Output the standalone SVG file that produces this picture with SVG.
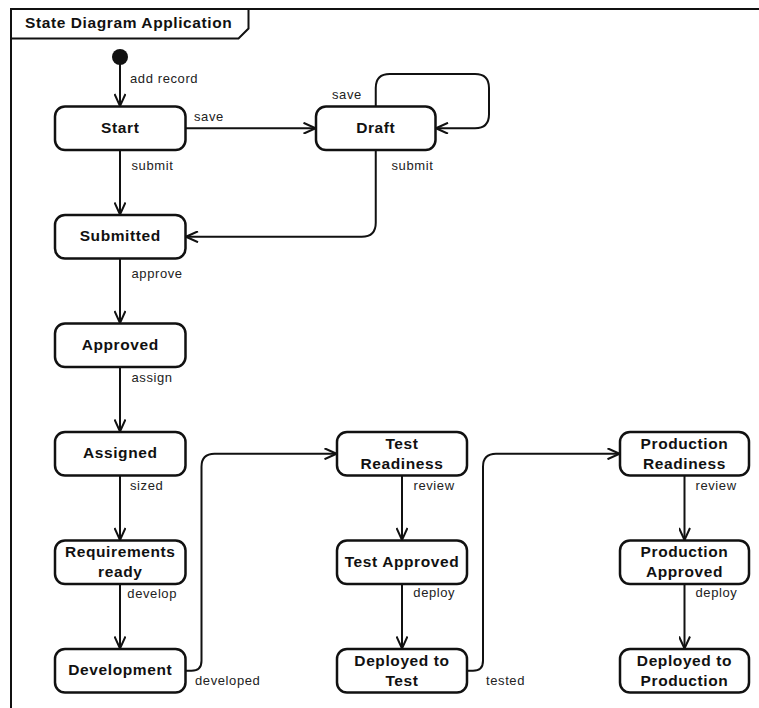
<svg xmlns="http://www.w3.org/2000/svg" width="759" height="708" viewBox="0 0 759 708">
  <style>
    .frame { fill: none; stroke: #111; stroke-width: 2; }
    .state rect { fill: #fff; stroke: #111; stroke-width: 2.5; }
    .state text { font-family: "Liberation Sans", Arial, sans-serif; font-weight: bold; font-size: 15.5px; letter-spacing: 0.6px; fill: #111; text-anchor: middle; }
    .title { font-family: "Liberation Sans", Arial, sans-serif; font-weight: bold; font-size: 15.5px; letter-spacing: 0.6px; fill: #111; }
    .edge { fill: none; stroke: #111; stroke-width: 2; marker-end: url(#open); }
    .lbl { font-family: "Liberation Sans", Arial, sans-serif; font-size: 13px; letter-spacing: 0.6px; fill: #222; }
  </style>
  <defs>
    <marker id="open" viewBox="0 0 14 12" refX="13.5" refY="6" markerWidth="14" markerHeight="12" markerUnits="userSpaceOnUse" orient="auto">
      <path d="M1,0.5 L13,6 L1,11.5" fill="none" stroke="#111" stroke-width="2"/>
    </marker>
  </defs>
  <rect width="759" height="708" fill="#fff"/>

  <!-- diagram frame with name tab -->
  <g id="frame">
    <rect class="frame" x="11" y="9" width="800" height="800"/>
    <path class="frame" d="M11,38.5 H238.5 L248.5,28.5 V9"/>
    <text class="title" x="25" y="28.3">State Diagram Application</text>
  </g>

  <!-- transitions -->
  <g id="connectors">
    <path class="edge" d="M120,57 V106.5"/>
    <path class="edge" d="M185.5,128.25 H316"/>
    <path class="edge" d="M375.75,106.5 V88 Q375.75,74 389.75,74 H475 Q489,74 489,88 V114.25 Q489,128.25 475,128.25 H435.5"/>
    <path class="edge" d="M375.75,150 V222.75 Q375.75,236.75 361.75,236.75 H185.5"/>
    <path class="edge" d="M120,150 V215"/>
    <path class="edge" d="M120,258.5 V323.5"/>
    <path class="edge" d="M120,367 V432"/>
    <path class="edge" d="M120,475.5 V540.5"/>
    <path class="edge" d="M120,584 V649"/>
    <path class="edge" d="M185.5,670.75 H191.5 Q201.5,670.75 201.5,660.75 V466.75 Q201.5,453.75 214.5,453.75 H337"/>
    <path class="edge" d="M402,475.5 V540.5"/>
    <path class="edge" d="M402,584 V649"/>
    <path class="edge" d="M467,670.75 H473 Q483,670.75 483,660.75 V466.75 Q483,453.75 496,453.75 H620"/>
    <path class="edge" d="M684.5,475.5 V540.5"/>
    <path class="edge" d="M684.5,584 V649"/>

    <text class="lbl" x="130" y="82.5">add record</text>
    <text class="lbl" x="194" y="121">save</text>
    <text class="lbl" x="332" y="98.5">save</text>
    <text class="lbl" x="131.5" y="170">submit</text>
    <text class="lbl" x="391.5" y="170">submit</text>
    <text class="lbl" x="131.5" y="278.3">approve</text>
    <text class="lbl" x="131.5" y="381.7">assign</text>
    <text class="lbl" x="130" y="490">sized</text>
    <text class="lbl" x="127.3" y="598">develop</text>
    <text class="lbl" x="195" y="685">developed</text>
    <text class="lbl" x="413.5" y="490">review</text>
    <text class="lbl" x="413.3" y="597">deploy</text>
    <text class="lbl" x="486" y="685">tested</text>
    <text class="lbl" x="695.5" y="490">review</text>
    <text class="lbl" x="695.5" y="597">deploy</text>
  </g>

  <!-- initial pseudostate -->
  <g id="initial">
    <circle cx="120" cy="57" r="8" fill="#111"/>
  </g>

  <!-- states -->
  <g id="start" class="state">
    <rect x="55" y="106.5" width="130.5" height="43.5" rx="10"/>
    <text x="120.25" y="132.5">Start</text>
  </g>
  <g id="draft" class="state">
    <rect x="316" y="106.5" width="119.5" height="43.5" rx="10"/>
    <text x="375.75" y="132.5">Draft</text>
  </g>
  <g id="submitted" class="state">
    <rect x="55" y="215" width="130.5" height="43.5" rx="10"/>
    <text x="120.25" y="241">Submitted</text>
  </g>
  <g id="approved" class="state">
    <rect x="55" y="323.5" width="130.5" height="43.5" rx="10"/>
    <text x="120.25" y="349.5">Approved</text>
  </g>
  <g id="assigned" class="state">
    <rect x="55" y="432" width="130.5" height="43.5" rx="10"/>
    <text x="120.25" y="458">Assigned</text>
  </g>
  <g id="requirements-ready" class="state">
    <rect x="55" y="540.5" width="130.5" height="43.5" rx="10"/>
    <text x="120.25" y="557">Requirements</text>
    <text x="120.25" y="577">ready</text>
  </g>
  <g id="development" class="state">
    <rect x="55" y="649" width="130.5" height="43.5" rx="10"/>
    <text x="120.25" y="675">Development</text>
  </g>
  <g id="test-readiness" class="state">
    <rect x="337" y="432" width="130" height="43.5" rx="10"/>
    <text x="402" y="448.5">Test</text>
    <text x="402" y="468.5">Readiness</text>
  </g>
  <g id="test-approved" class="state">
    <rect x="337" y="540.5" width="130" height="43.5" rx="10"/>
    <text x="402" y="567">Test Approved</text>
  </g>
  <g id="deployed-to-test" class="state">
    <rect x="337" y="649" width="130" height="43.5" rx="10"/>
    <text x="402" y="665.5">Deployed to</text>
    <text x="402" y="685.5">Test</text>
  </g>
  <g id="production-readiness" class="state">
    <rect x="620" y="432" width="129" height="43.5" rx="10"/>
    <text x="684.5" y="448.5">Production</text>
    <text x="684.5" y="468.5">Readiness</text>
  </g>
  <g id="production-approved" class="state">
    <rect x="620" y="540.5" width="129" height="43.5" rx="10"/>
    <text x="684.5" y="557">Production</text>
    <text x="684.5" y="577">Approved</text>
  </g>
  <g id="deployed-to-production" class="state">
    <rect x="620" y="649" width="129" height="43.5" rx="10"/>
    <text x="684.5" y="665.5">Deployed to</text>
    <text x="684.5" y="685.5">Production</text>
  </g>
</svg>
